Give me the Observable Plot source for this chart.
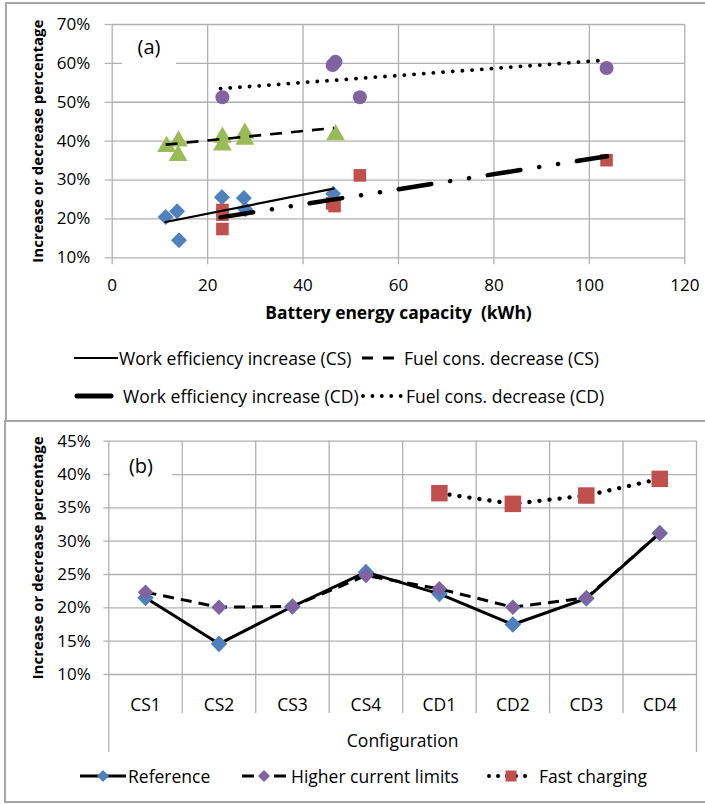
<!DOCTYPE html>
<html>
<head>
<meta charset="utf-8">
<script src="https://cdn.jsdelivr.net/npm/d3@7"></script>
<script src="https://cdn.jsdelivr.net/npm/@observablehq/plot@0.6"></script>
<style>
  html, body { margin:0; padding:0; background:#fff; }
  #page { position:relative; width:705px; height:804px; overflow:hidden; background:#fff; font-family: "Open Sans", Lato, sans-serif; color:#000; }
  .frame { position:absolute; box-sizing:border-box; border-color:#a6a6a6; border-style:solid; }
  #frameA { left:5px; top:2px; width:700px; height:420px; border-width:2px 0 0 2px; }
  #frameB { left:4px; top:420px; width:701px; height:383px; border-width:2px 0 2px 2px; }
  .chart { position:absolute; left:0; }
  .tag { position:absolute; background:#fff; font-size:20px; text-align:center; }
  .leg { position:absolute; font-size:17.5px; white-space:nowrap; line-height:20px; height:20px; }
  .sw { position:absolute; overflow:visible; }
</style>
</head>
<body>
<div id="page">
  <div id="frameA" class="frame"></div>
  <div id="frameB" class="frame"></div>
  <div id="chartA" class="chart" style="top:0px"></div>
  <div id="chartB" class="chart" style="top:422px"></div>

  <div class="tag" style="left:122px;top:32px;width:54px;height:36px;line-height:30px;">(a)</div>
  <div class="tag" style="left:110px;top:453px;width:62px;height:34px;line-height:26px;">(b)</div>

  <!-- legend (a) -->
  <svg class="sw" style="left:74px;top:348px" width="44" height="20"><line x1="0" x2="44" y1="10" y2="10" stroke="#000" stroke-width="2.2"/></svg>
  <div class="leg" style="left:119px;top:348px">Work efficiency increase (CS)</div>
  <svg class="sw" style="left:361px;top:348px" width="34" height="20"><line x1="1" x2="33" y1="10" y2="10" stroke="#000" stroke-width="3" stroke-dasharray="11,10"/></svg>
  <div class="leg" style="left:404px;top:348px">Fuel cons. decrease (CS)</div>
  <svg class="sw" style="left:74px;top:386px" width="40" height="20"><line x1="3" x2="37" y1="10" y2="10" stroke="#000" stroke-width="5" stroke-linecap="round"/></svg>
  <div class="leg" style="left:123px;top:386px">Work efficiency increase (CD)</div>
  <svg class="sw" style="left:361px;top:386px" width="44" height="20"><line x1="2" x2="41" y1="10" y2="10" stroke="#000" stroke-width="3.8" stroke-linecap="round" stroke-dasharray="0.01,9.4"/></svg>
  <div class="leg" style="left:406px;top:386px">Fuel cons. decrease (CD)</div>

  <!-- legend (b) -->
  <svg class="sw" style="left:80px;top:766px" width="46" height="20"><line x1="0" x2="46" y1="10" y2="10" stroke="#000" stroke-width="3"/><path d="M23,4L29,10L23,16L17,10Z" fill="#4F81BD"/></svg>
  <div class="leg" style="left:128px;top:766px">Reference</div>
  <svg class="sw" style="left:242px;top:766px" width="44" height="20"><line x1="0" x2="12" y1="10" y2="10" stroke="#000" stroke-width="3"/><line x1="32" x2="44" y1="10" y2="10" stroke="#000" stroke-width="3"/><path d="M22,4L28,10L22,16L16,10Z" fill="#8064A2"/></svg>
  <div class="leg" style="left:291px;top:766px">Higher current limits</div>
  <svg class="sw" style="left:487px;top:766px" width="48" height="20"><line x1="2" x2="47" y1="10" y2="10" stroke="#000" stroke-width="4" stroke-linecap="round" stroke-dasharray="0.01,9"/><rect x="18.5" y="4.5" width="11" height="11" fill="#C0504D"/></svg>
  <div class="leg" style="left:539px;top:766px">Fast charging</div>
</div>

<script>
// ---------------- Panel (a) data ----------------
const capacityTicks = [0, 20, 40, 60, 80, 100, 120];
const percentTicksA = [0.10, 0.20, 0.30, 0.40, 0.50, 0.60, 0.70];

// Work efficiency increase (CS) - blue diamonds
const workCSCapacity = [11.2, 13.6, 14.0, 23.0, 27.6, 27.9, 46.3];
const workCSValue    = [20.5, 22.0, 14.5, 25.6, 25.4, 22.5, 26.5];
// Fuel cons. decrease (CS) - green triangles
const fuelCSCapacity = [11.4, 13.9, 13.8, 23.1, 23.1, 27.8, 27.8, 46.8];
const fuelCSValue    = [38.6, 40.0, 36.3, 41.0, 39.0, 42.0, 40.5, 41.6];
// Work efficiency increase (CD) - red squares
const workCDCapacity = [23.1, 23.1, 23.1, 46.1, 46.6, 51.9, 103.6];
const workCDValue    = [22.3, 21.1, 17.4, 24.0, 23.3, 31.2, 35.1];
// Fuel cons. decrease (CD) - purple circles
const fuelCDCapacity = [23.1, 46.2, 46.8, 51.9, 103.6];
const fuelCDValue    = [51.3, 59.6, 60.4, 51.3, 58.8];

// Trend lines: start / end
const trendNames        = ["Work efficiency increase (CS)", "Fuel cons. decrease (CS)", "Work efficiency increase (CD)", "Fuel cons. decrease (CD)"];
const trendFromCapacity = [11.2, 11.2, 22.7, 22.7];
const trendToCapacity   = [46.4, 46.5, 103.7, 102.0];
const trendFromValue    = [19.2, 39.1, 20.4, 53.5];
const trendToValue      = [27.8, 43.4, 36.1, 60.7];

// ---------------- Panel (b) data ----------------
const configs = ["CS1", "CS2", "CS3", "CS4", "CD1", "CD2", "CD3", "CD4"];
const percentTicksB = [0.10, 0.15, 0.20, 0.25, 0.30, 0.35, 0.40, 0.45];
const referenceValue = [21.5, 14.6, 20.2, 25.35, 22.1, 17.5, 21.4, 31.2];
const higherCurrentValue = [22.35, 20.1, 20.2, 24.85, 22.85, 20.1, 21.5, 31.2];
const fastConfigs = ["CD1", "CD2", "CD3", "CD4"];
const fastChargingValue = [37.2, 35.6, 36.85, 39.35];

// ---------------- build ----------------
const grey = "#b0b0b0";
const pct = d3.format(".0%");
const font = "'Open Sans', Lato, sans-serif";
const toPoints = (xs, ys) => xs.map((x, i) => ({x, y: ys[i] / 100}));

const trend = i => [
  {x: trendFromCapacity[i], y: trendFromValue[i] / 100, name: trendNames[i]},
  {x: trendToCapacity[i], y: trendToValue[i] / 100, name: trendNames[i]}
];

const chartA = Plot.plot({
  width: 705, height: 330,
  marginLeft: 111.7, marginRight: 20.7, marginTop: 24, marginBottom: 72.7,
  style: {fontFamily: font, fontSize: "17px", background: "transparent", color: "#000", overflow: "visible"},
  x: {type: "linear", domain: [0, 120]},
  y: {type: "linear", domain: [0.10, 0.70]},
  marks: [
    Plot.gridY(percentTicksA, {stroke: grey, strokeOpacity: 1, strokeWidth: 1.3}),
    Plot.gridX(capacityTicks, {stroke: grey, strokeOpacity: 1, strokeWidth: 1.3}),
    Plot.axisY(percentTicksA, {tickFormat: pct, tickSize: 7, tickPadding: 15, stroke: grey, strokeWidth: 1.3, label: null}),
    Plot.axisY([], {label: "Increase or decrease percentage", labelAnchor: "center", labelOffset: 79.5, labelArrow: "none", fontWeight: "bold", fontSize: 15, tickSize: 0}),
    Plot.axisX(capacityTicks, {tickSize: 7, tickPadding: 14.6, stroke: grey, strokeWidth: 1.3, label: null}),
    Plot.axisX([], {label: "Battery energy capacity  (kWh)", labelAnchor: "center", labelOffset: 61, labelArrow: "none", fontWeight: "bold", fontSize: 17.4, tickSize: 0}),

    Plot.dot(toPoints(fuelCDCapacity, fuelCDValue), {x: "x", y: "y", symbol: "circle", r: 7, fill: "#8064A2", stroke: "none"}),
    Plot.dot(toPoints(fuelCSCapacity, fuelCSValue), {x: "x", y: "y", symbol: "triangle", r: 7, fill: "#9BBB59", stroke: "none"}),
    Plot.dot(toPoints(workCSCapacity, workCSValue), {x: "x", y: "y", symbol: "diamond2", r: 7.2, fill: "#4F81BD", stroke: "none"}),
    Plot.dot(toPoints(workCDCapacity, workCDValue), {x: "x", y: "y", symbol: "square", r: 7.1, fill: "#C0504D", stroke: "none"}),

    Plot.line(trend(0), {x: "x", y: "y", stroke: "#000", strokeWidth: 2.2}),
    Plot.line(trend(1), {x: "x", y: "y", stroke: "#000", strokeWidth: 2.6, strokeDasharray: "12,9", strokeLinecap: "butt"}),
    Plot.line(trend(2), {x: "x", y: "y", stroke: "#000", strokeWidth: 4.5, strokeDasharray: "33,19,0.1,19,0.1,19", strokeLinecap: "round"}),
    Plot.line(trend(3), {x: "x", y: "y", stroke: "#000", strokeWidth: 3.8, strokeDasharray: "0.1,9.6", strokeLinecap: "round"})
  ]
});
document.getElementById("chartA").append(chartA);

const centers = configs.map((c, i) => i + 0.5);
const edges = d3.range(0, configs.length + 1);
const innerEdges = edges.slice(1, -1);
const outerEdges = [edges[0], edges[edges.length - 1]];
const seriesB = (cats, vals) => cats.map((c, i) => ({x: configs.indexOf(c) + 0.5, y: vals[i] / 100}));

const chartB = Plot.plot({
  width: 705, height: 340,
  marginLeft: 108.3, marginRight: 9, marginTop: 18.7, marginBottom: 88,
  style: {fontFamily: font, fontSize: "17px", background: "transparent", color: "#000", overflow: "visible"},
  x: {type: "linear", domain: [0, configs.length]},
  y: {type: "linear", domain: [0.10, 0.45]},
  marks: [
    Plot.gridY(percentTicksB, {stroke: grey, strokeOpacity: 1, strokeWidth: 1.3}),
    Plot.gridX(edges, {stroke: grey, strokeOpacity: 1, strokeWidth: 1.3}),
    Plot.axisX(innerEdges, {tickSize: 39, fill: "none", stroke: grey, strokeWidth: 1.3, label: null}),
    Plot.axisX(outerEdges, {tickSize: 78, fill: "none", stroke: grey, strokeWidth: 1.3, label: null}),
    Plot.axisX(centers, {tickFormat: d => configs[Math.floor(d)], tickSize: 0, tickPadding: 23.9, label: "Configuration", labelAnchor: "center", labelOffset: 72.2, labelArrow: "none", fontSize: 17.5}),
    Plot.axisY(percentTicksB, {tickFormat: pct, tickSize: 5, tickPadding: 13, stroke: grey, strokeWidth: 1.3, label: null}),
    Plot.axisY([], {label: "Increase or decrease percentage", labelAnchor: "center", labelOffset: 76, labelArrow: "none", fontWeight: "bold", fontSize: 15, tickSize: 0}),

    Plot.line(seriesB(configs, referenceValue), {x: "x", y: "y", stroke: "#000", strokeWidth: 3}),
    Plot.dot(seriesB(configs, referenceValue), {x: "x", y: "y", symbol: "diamond2", r: 7.5, fill: "#4F81BD", stroke: "none"}),
    Plot.line(seriesB(configs, higherCurrentValue), {x: "x", y: "y", stroke: "#000", strokeWidth: 3, strokeDasharray: "11,7", strokeLinecap: "butt"}),
    Plot.dot(seriesB(configs, higherCurrentValue), {x: "x", y: "y", symbol: "diamond2", r: 7, fill: "#8064A2", stroke: "none"}),
    Plot.line(seriesB(fastConfigs, fastChargingValue), {x: "x", y: "y", stroke: "#000", strokeWidth: 4.3, strokeDasharray: "0.1,10", strokeLinecap: "round"}),
    Plot.dot(seriesB(fastConfigs, fastChargingValue), {x: "x", y: "y", symbol: "square", r: 9.3, fill: "#C0504D", stroke: "none"})
  ]
});
document.getElementById("chartB").append(chartB);
</script>
</body>
</html>
